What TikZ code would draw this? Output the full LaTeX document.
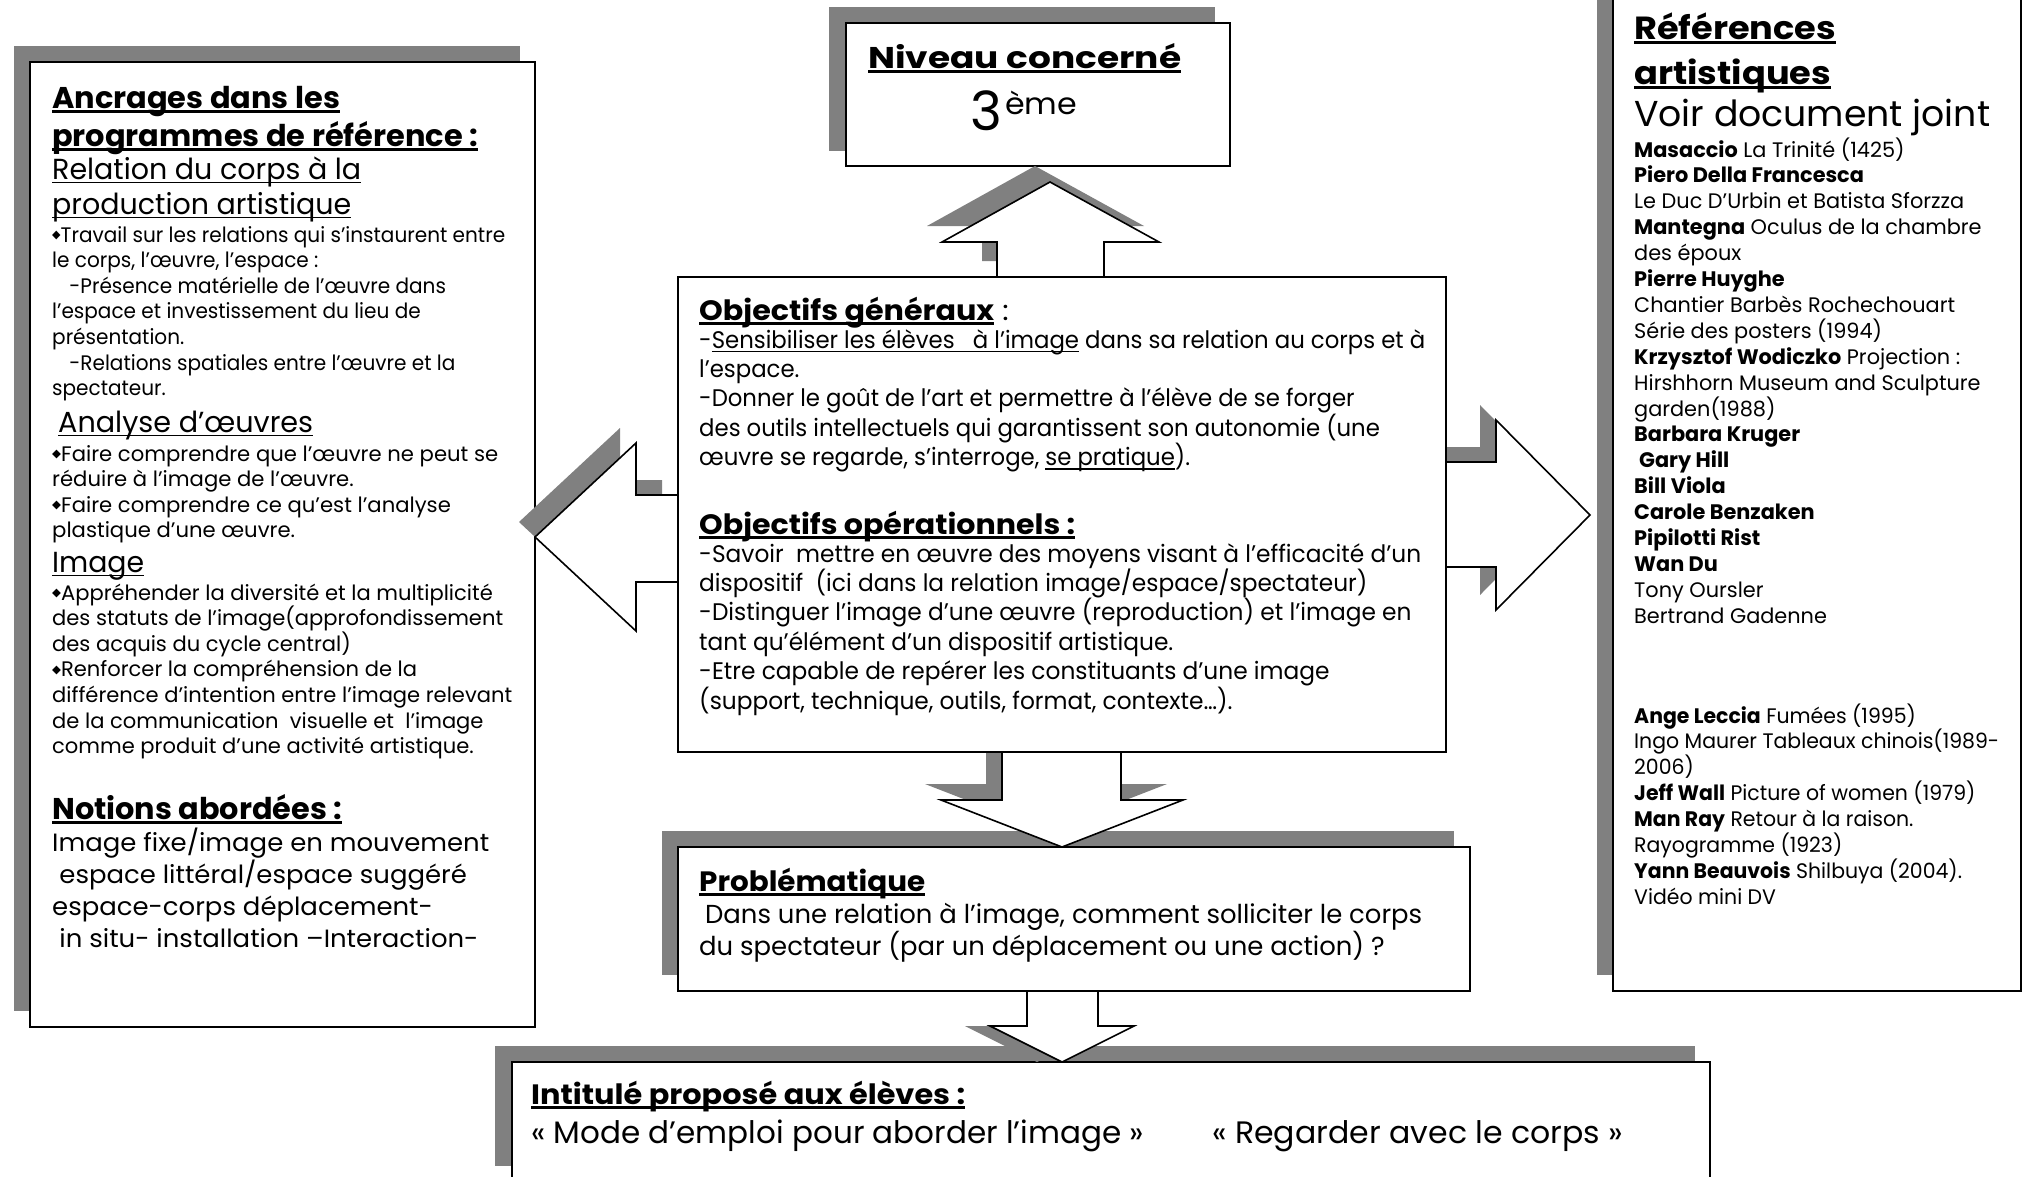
\documentclass[tikz,border=0pt]{standalone}
\usepackage{fontspec}
\setmainfont{Poppins}
\newfontfamily\symf{DejaVu Sans}
\usepackage{graphicx}
\definecolor{shadowgray}{HTML}{808080}
\newsavebox\myulbox
\newcommand\myul[3]{\leavevmode\sbox\myulbox{#3}\rlap{\rule[-#2]{\wd\myulbox}{#1}}\usebox\myulbox}
\newcommand\ulb[1]{\myul{2.6pt}{4.5pt}{#1}}
\newcommand\ulr[1]{\myul{1.5pt}{4pt}{#1}}
\newcommand\bul{\leavevmode\raisebox{0.3ex}{\symf\scalebox{0.55}{◆}}}
\newsavebox\fitbox
\newcommand\blockfit[4]{\sbox\fitbox{#1#2}\pgfmathsetmacro\fitratio{#3/\the\wd\fitbox}\scalebox{\fitratio}[1]{\parbox[t]{1500pt}{#1\lineskiplimit=-1000pt\lineskip=0pt\raggedright\parindent=0pt #4}}}
\begin{document}
\begin{tikzpicture}[x=1pt,y=-1pt,
  shadowfill/.style={fill=shadowgray,draw=none},
  boxframe/.style={draw=black,line width=2pt,fill=white},
  blockarrow/.style={draw=black,line width=1.6pt,fill=white,line join=miter},
  txt/.style={anchor=base west,inner sep=0pt}]
\useasboundingbox (0,0) rectangle (2022,1176);
\clip (0,0) rectangle (2022,1176);
\fill[white] (0,0) rectangle (2022,1176);
% box shadows
\fill[shadowfill] (14,46) rectangle (520,1011);
\fill[shadowfill] (829,7) rectangle (1215,151);
\fill[shadowfill] (1597,-20) rectangle (2005,975);
\fill[shadowfill] (662,831) rectangle (1454,975);
\fill[shadowfill] (495,1046) rectangle (1695,1166);
% boxes
\draw[boxframe] (30,62) rectangle (535,1027);
\draw[boxframe] (846,23) rectangle (1230,166);
\draw[boxframe] (1613,-20) rectangle (2021,991);
\draw[boxframe] (678,847) rectangle (1470,991);
\draw[boxframe] (512,1062) rectangle (1710,1200);
% arrow shadows
\fill[shadowfill,shift={(-16,-15)}] (678,495) -- (636,495) -- (636,443) -- (535,537) -- (636,631) -- (636,582) -- (678,582) -- cycle;
\fill[shadowfill,shift={(-16,-15)}] (1446,462) -- (1496,462) -- (1496,420) -- (1590,515) -- (1496,610) -- (1496,567) -- (1446,567) -- cycle;
\fill[shadowfill,shift={(-15,-16)}] (997,277) -- (997,242) -- (942,242) -- (1050,182) -- (1159,242) -- (1104,242) -- (1104,277) -- cycle;
\fill[shadowfill,shift={(-16,-16)}] (1002,752) -- (1002,800) -- (941,800) -- (1062,847) -- (1183,800) -- (1121,800) -- (1121,752) -- cycle;
\fill[shadowfill,shift={(-25,0)}] (990,1026) -- (1062,1062) -- (1134,1026) -- cycle;
% arrows
\draw[blockarrow] (678,495) -- (636,495) -- (636,443) -- (535,537) -- (636,631) -- (636,582) -- (678,582) -- cycle;
\draw[blockarrow] (1446,462) -- (1496,462) -- (1496,420) -- (1590,515) -- (1496,610) -- (1496,567) -- (1446,567) -- cycle;
\draw[blockarrow] (997,277) -- (997,242) -- (942,242) -- (1050,182) -- (1159,242) -- (1104,242) -- (1104,277) -- cycle;
\draw[blockarrow] (1002,752) -- (1002,800) -- (941,800) -- (1062,847) -- (1183,800) -- (1121,800) -- (1121,752) -- cycle;
\draw[blockarrow] (1027,991) -- (1027,1026) -- (990,1026) -- (1062,1062) -- (1134,1026) -- (1098,1026) -- (1098,991) -- cycle;
% central box
\draw[boxframe] (678,277) rectangle (1446,752);

% ---- Left box texts
\node[txt] (lhead) at (52,108) {\blockfit{\fontsize{30}{38}\selectfont\bfseries}{programmes de référence :}{426}{\ulb{Ancrages dans les}\\\ulb{programmes de référence :}}};
\node[txt] (lsubA) at (52,179) {\blockfit{\fontsize{29}{35}\selectfont}{Relation du corps à la}{309}{\ulr{Relation du corps à la}\\\ulr{production artistique}}};
\node[txt] (lsmallA) at (52,242) {\blockfit{\fontsize{21}{25.6}\selectfont}{\bul Travail sur les relations qui s’instaurent entre}{453}{\bul Travail sur les relations qui s’instaurent entre\\le corps, l’œuvre, l’espace :\\\hspace*{18pt}-Présence matérielle de l’œuvre dans\\l’espace et investissement du lieu de\\présentation.\\\hspace*{18pt}-Relations spatiales entre l’œuvre et la\\spectateur.}};
\node[txt] (lsubB) at (58,432) {\blockfit{\fontsize{29}{35}\selectfont}{Analyse d’œuvres}{255}{\ulr{Analyse d’œuvres}}};
\node[txt] (lsmallB) at (52,461) {\blockfit{\fontsize{21}{25.6}\selectfont}{\bul Faire comprendre que l’œuvre ne peut se}{446}{\bul Faire comprendre que l’œuvre ne peut se\\réduire à l’image de l’œuvre.\\\bul Faire comprendre ce qu’est l’analyse\\plastique d’une œuvre.}};
\node[txt] (lsubC) at (52,572) {\blockfit{\fontsize{29}{35}\selectfont}{Image}{92}{\ulr{Image}}};
\node[txt] (lsmallC) at (52,600) {\blockfit{\fontsize{21}{25.6}\selectfont}{différence d’intention entre l’image relevant}{460}{\bul Appréhender la diversité et la multiplicité\\des statuts de l’image(approfondissement\\des acquis du cycle central)\\\bul Renforcer la compréhension de la\\différence d’intention entre l’image relevant\\de la communication \ visuelle et \ l’image\\comme produit d’une activité artistique.}};
\node[txt] (lnot) at (52,819) {\blockfit{\fontsize{30}{38}\selectfont\bfseries}{Notions abordées :}{290}{\ulb{Notions abordées :}}};
\node[txt] (lnotl) at (52,851) {\blockfit{\fontsize{25}{32}\selectfont}{Image fixe/image en mouvement}{437}{Image fixe/image en mouvement\\\hspace*{7pt}espace littéral/espace suggéré\\espace-corps déplacement-\\\hspace*{7pt}in situ- installation –Interaction-}};

% ---- Niveau
\node[txt] (nh) at (868,68) {\blockfit{\fontsize{30}{38}\selectfont\bfseries}{Niveau concerné}{313}{\ulb{Niveau concerné}}};
\node[txt] (n3) at (970,130) {\fontsize{54}{60}\selectfont 3};
\node[txt] (nsup) at (1005,114) {\blockfit{\fontsize{30}{36}\selectfont}{ème}{72}{ème}};

% ---- Objectifs
\node[txt] (og) at (699,320) {\blockfit{\fontsize{28}{34}\selectfont}{\bfseries Objectifs généraux}{295}{\ulb{\bfseries Objectifs généraux} :}};
\node[txt] (ogl) at (699,348) {\blockfit{\fontsize{24}{29.4}\selectfont}{-Sensibiliser les élèves \ \ à l’image dans sa relation au corps et à}{726}{-\ulr{Sensibiliser les élèves \ \ à l’image} dans sa relation au corps et à\\l’espace.\\-Donner le goût de l’art et permettre à l’élève de se forger\\des outils intellectuels qui garantissent son autonomie (une\\œuvre se regarde, s’interroge, \ulr{se pratique}).}};
\node[txt] (oo) at (699,534) {\blockfit{\fontsize{28}{34}\selectfont\bfseries}{Objectifs opérationnels :}{376}{\ulb{Objectifs opérationnels :}}};
\node[txt] (ool) at (699,562) {\blockfit{\fontsize{24}{29.4}\selectfont}{-Savoir \ mettre en œuvre des moyens visant à l’efficacité d’un}{722}{-Savoir \ mettre en œuvre des moyens visant à l’efficacité d’un\\dispositif \ (ici dans la relation image/espace/spectateur)\\-Distinguer l’image d’une œuvre (reproduction) et l’image en\\tant qu’élément d’un dispositif artistique.\\-Etre capable de repérer les constituants d’une image\\(support, technique, outils, format, contexte…).}};

% ---- Problematique
\node[txt] (ph) at (699,891) {\blockfit{\fontsize{28}{34}\selectfont\bfseries}{Problématique}{226}{\ulb{Problématique}}};
\node[txt] (pl) at (699,923) {\blockfit{\fontsize{26}{32}\selectfont}{\hspace*{6pt}Dans une relation à l’image, comment solliciter le corps}{723}{\hspace*{6pt}Dans une relation à l’image, comment solliciter le corps\\du spectateur (par un déplacement ou une action) ?}};

% ---- Intitule
\node[txt] (ih) at (531,1104) {\blockfit{\fontsize{28}{34}\selectfont\bfseries}{Intitulé proposé aux élèves :}{434}{\ulb{Intitulé proposé aux élèves :}}};
\node[txt] (ila) at (531,1143) {\blockfit{\fontsize{31}{36}\selectfont}{« Mode d’emploi pour aborder l’image »}{613}{« Mode d’emploi pour aborder l’image »}};
\node[txt] (ilb) at (1212,1143) {\blockfit{\fontsize{31}{36}\selectfont}{« Regarder avec le corps »}{411}{« Regarder avec le corps »}};

% ---- References
\node[txt] (rh) at (1634,39) {\blockfit{\fontsize{32}{45}\selectfont\bfseries}{Références}{202}{\ulb{Références}\\\ulb{artistiques}}};
\node[txt] (rv) at (1634,126) {\blockfit{\fontsize{36}{40}\selectfont}{Voir document joint}{356}{Voir document joint}};
\node[txt] (rla) at (1634,157) {\blockfit{\fontsize{21}{25.9}\selectfont}{Le Duc D’Urbin et Batista Sforzza}{330}{\textbf{Masaccio} La Trinité (1425)\\\textbf{Piero Della Francesca}\\Le Duc D’Urbin et Batista Sforzza\\\textbf{Mantegna} Oculus de la chambre\\des époux\\\textbf{Pierre Huyghe}\\Chantier Barbès Rochechouart\\Série des posters (1994)\\\textbf{Krzysztof Wodiczko} Projection :\\Hirshhorn Museum and Sculpture\\garden(1988)\\\textbf{Barbara Kruger}\\\hspace*{5pt}\textbf{Gary Hill}\\\textbf{Bill Viola}\\\textbf{Carole Benzaken}\\\textbf{Pipilotti Rist}\\\textbf{Wan Du}\\Tony Oursler\\Bertrand Gadenne}};
\node[txt] (rlb) at (1634,723) {\blockfit{\fontsize{21}{25.9}\selectfont}{Ingo Maurer Tableaux chinois(1989-}{365}{\textbf{Ange Leccia} Fumées (1995)\\Ingo Maurer Tableaux chinois(1989-\\2006)\\\textbf{Jeff Wall} Picture of women (1979)\\\textbf{Man Ray} Retour à la raison.\\Rayogramme (1923)\\\textbf{Yann Beauvois} Shilbuya (2004).\\Vidéo mini DV}};
\end{tikzpicture}
\end{document}
